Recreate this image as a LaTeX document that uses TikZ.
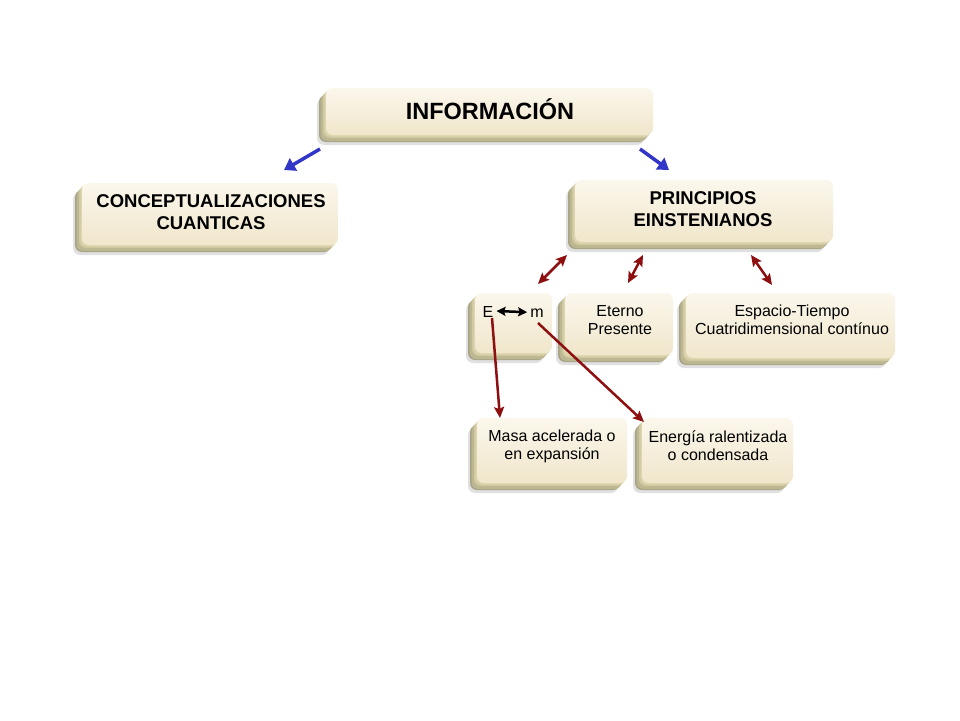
\documentclass[tikz,border=0pt]{standalone}
\usepackage{fontspec}
\setmainfont{Liberation Sans}
\usetikzlibrary{shadows,arrows.meta}
\definecolor{facetop}{HTML}{FBF7EC}
\definecolor{facebot}{HTML}{F0E6CB}
\definecolor{sideA}{HTML}{A7A386}
\definecolor{sideB}{HTML}{BDB791}
\definecolor{sideC}{HTML}{CFC8A0}
\definecolor{sideD}{HTML}{DCD5AE}
\definecolor{bluearr}{HTML}{3236C8}
\definecolor{redarr}{HTML}{8E0F0F}
\tikzset{
  box/.style={rounded corners=7pt, draw=none, inner sep=0pt,
    general shadow={fill=black, opacity=.12, shadow xshift=-9pt, shadow yshift=-10pt},
    general shadow={fill=sideA, shadow xshift=-7pt, shadow yshift=-7pt},
    general shadow={fill=sideB, shadow xshift=-5.5pt, shadow yshift=-6pt},
    general shadow={fill=sideB, shadow xshift=-4.5pt, shadow yshift=-4.5pt},
    general shadow={fill=sideC, shadow xshift=-3pt, shadow yshift=-3pt},
    general shadow={fill=sideD, shadow xshift=-1.5pt, shadow yshift=-1.5pt},
    top color=facetop, bottom color=facebot},
  txt/.style={align=center, inner sep=0pt, font=\fontsize{16}{18}\selectfont},
  btxt/.style={align=center, inner sep=0pt, font=\fontsize{18.5}{22}\selectfont\bfseries},
  barrow/.style={draw=bluearr, line width=3.5pt, -{Triangle[length=11pt,width=14pt]}},
  rarrow/.style={draw=redarr, line width=2.5pt, -{Stealth[length=11pt,width=10pt,inset=2pt]}},
  rdarrow/.style={draw=redarr, line width=2.5pt, {Stealth[length=11pt,width=10pt,inset=2pt]}-{Stealth[length=11pt,width=10pt,inset=2pt]}},
  karrow/.style={draw=black, line width=2.5pt, {Stealth[length=9pt,width=9pt,inset=1.5pt]}-{Stealth[length=9pt,width=9pt,inset=1.5pt]}}
}
\begin{document}
\begin{tikzpicture}[x=1pt,y=-1pt]
\useasboundingbox[fill=white] (0,0) rectangle (960,720);
% boxes (faces)
\node[box, minimum width=327pt, minimum height=47pt] (info) at (489.5,111.5) {};
\node[box, minimum width=256pt, minimum height=62pt] (conc) at (210,214) {};
\node[box, minimum width=258pt, minimum height=62pt] (prin) at (704,211) {};
\node[box, minimum width=77pt, minimum height=60pt] (em) at (513.5,323) {};
\node[box, minimum width=108pt, minimum height=62pt] (ete) at (619,324) {};
\node[box, minimum width=209pt, minimum height=65pt] (esp) at (790.5,325.5) {};
\node[box, minimum width=150pt, minimum height=65pt] (masa) at (552,450.5) {};
\node[box, minimum width=151pt, minimum height=65pt] (ener) at (717.5,450.5) {};
% texts
\node[align=center, inner sep=0pt, font=\fontsize{23.5}{26}\selectfont\bfseries] (infot) at (490,109) {INFORMACIÓN};
\node[btxt] (conct) at (211,212) {CONCEPTUALIZACIONES\\CUANTICAS};
\node[btxt] (print) at (703,209) {PRINCIPIOS\\EINSTENIANOS};
\node[txt, anchor=base] (E) at (488,317) {E};
\node[txt, anchor=base] (m) at (537,317) {m};
\node[txt] (etet) at (620,320) {Eterno\\Presente};
\node[txt] (espt) at (792,320) {Espacio-Tiempo\\Cuatridimensional contínuo};
\node[txt] (masat) at (552,446) {Masa acelerada o\\en expansión};
\node[txt] (enert) at (718,446) {Energía ralentizada\\o condensada};
% connector end points
\coordinate (b1s) at (320,149); \coordinate (b1e) at (284,170);
\coordinate (b2s) at (640,149); \coordinate (b2e) at (669,170);
\coordinate (r1s) at (538,284); \coordinate (r1e) at (567,255);
\coordinate (r2s) at (628,283); \coordinate (r2e) at (643,255);
\coordinate (r3s) at (751,255); \coordinate (r3e) at (772,285);
\coordinate (r4s) at (492,318); \coordinate (r4e) at (500,418);
\coordinate (r5s) at (538,323); \coordinate (r5e) at (644,422);
% connectors
\draw[barrow] (b1s) -- (b1e);
\draw[barrow] (b2s) -- (b2e);
\draw[rdarrow] (r1s) -- (r1e);
\draw[rdarrow] (r2s) -- (r2e);
\draw[rdarrow] (r3s) -- (r3e);
\draw[rarrow] (r4s) -- (r4e);
\draw[rarrow] (r5s) -- (r5e);
\draw[karrow] ([xshift=3pt,yshift=0.5pt]E.east) -- ([xshift=-3pt,yshift=0.5pt]m.west);
\end{tikzpicture}
\end{document}
